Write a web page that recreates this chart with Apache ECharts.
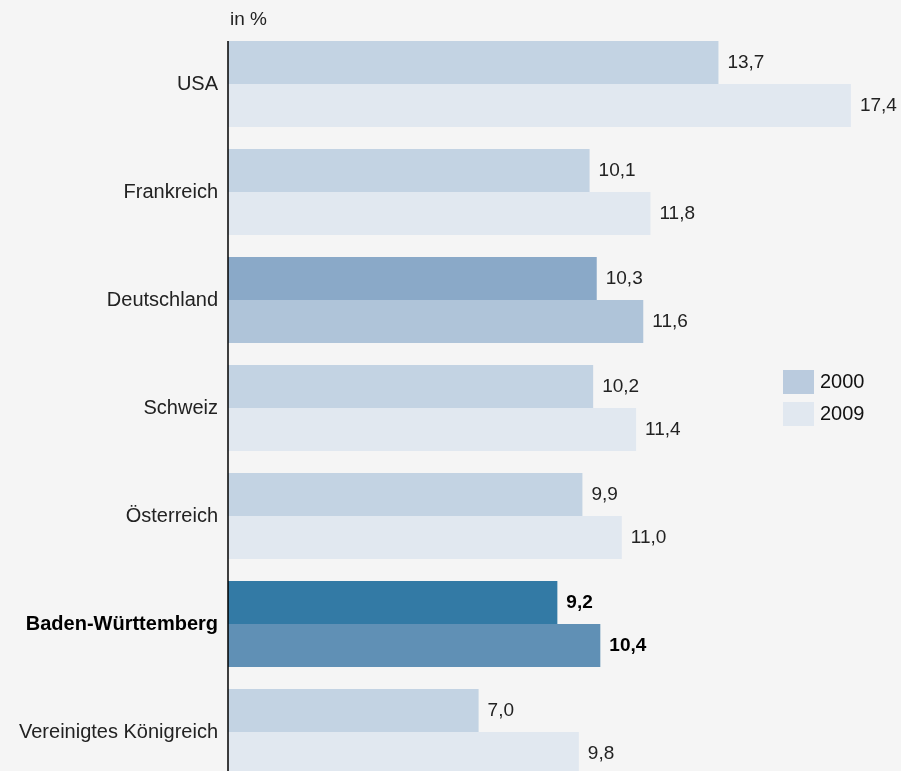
<!DOCTYPE html>
<html>
<head>
<meta charset="utf-8">
<script src="https://cdn.jsdelivr.net/npm/echarts@6/dist/echarts.min.js"></script>
<style>
html, body { margin: 0; padding: 0; background: #f5f5f5; }
#main { width: 901px; height: 771px; }
</style>
</head>
<body>
<div id="main"></div>
<script>
var categories = ['USA', 'Frankreich', 'Deutschland', 'Schweiz', 'Österreich', 'Baden-Württemberg', 'Vereinigtes Königreich'];
var values2000 = [13.7, 10.1, 10.3, 10.2, 9.9, 9.2, 7.0];
var values2009 = [17.4, 11.8, 11.6, 11.4, 11.0, 10.4, 9.8];

// Farben: Standard, Deutschland hervorgehoben, Baden-Württemberg stark hervorgehoben
var colors2000 = ['#c3d3e3', '#c3d3e3', '#8aa9c8', '#c3d3e3', '#c3d3e3', '#337aa5', '#c3d3e3'];
var colors2009 = ['#e1e8f0', '#e1e8f0', '#afc4d9', '#e1e8f0', '#e1e8f0', '#6090b5', '#e1e8f0'];
var boldIndex = 5;
var barW = 43;

var myChart = echarts.init(document.getElementById('main'));

function fmt(v) {
    return v.toFixed(1).replace('.', ',');
}

function buildData(values, colors) {
    return values.map(function (v, i) {
        return {
            value: v,
            itemStyle: { color: colors[i] },
            label: { fontWeight: i === boldIndex ? 'bold' : 'normal', color: i === boldIndex ? '#000' : '#222' }
        };
    });
}

var labelStyle = {
    show: true,
    position: 'right',
    distance: 9,
    fontSize: 19,
    fontFamily: 'Liberation Sans',
    formatter: function (p) { return fmt(p.value); }
};

option = {
    backgroundColor: '#f5f5f5',
    textStyle: { fontFamily: 'Liberation Sans' },
    legend: {
        orient: 'vertical',
        left: 783,
        top: 370,
        padding: 0,
        icon: 'rect',
        itemWidth: 31,
        itemHeight: 24,
        itemGap: 8,
        textStyle: { fontSize: 20, color: '#111', fontFamily: 'Liberation Sans', padding: [0, 0, 0, 1] },
        data: [
            { name: '2000', itemStyle: { color: '#bacbde' } },
            { name: '2009', itemStyle: { color: '#e1e8f0' } }
        ]
    },
    grid: {
        left: 228,
        top: 30,
        width: 644.4,
        height: 756,
        outerBoundsMode: 'none'
    },
    xAxis: {
        type: 'value',
        min: 0,
        max: 18,
        show: false
    },
    yAxis: {
        type: 'category',
        inverse: true,
        data: categories,
        axisLine: { show: false },
        axisTick: { show: false },
        axisLabel: {
            margin: 10,
            fontSize: 20,
            color: '#222',
            fontFamily: 'Liberation Sans',
            formatter: function (v) {
                return v === categories[boldIndex] ? '{b|' + v + '}' : v;
            },
            rich: {
                b: { fontWeight: 'bold', fontSize: 20, color: '#000', fontFamily: 'Liberation Sans' }
            }
        }
    },
    series: [{
        name: '2000',
        type: 'bar',
        barWidth: barW,
        barGap: '0%',
        barCategoryGap: '20%',
        label: labelStyle,
        data: buildData(values2000, colors2000)
    }, {
        name: '2009',
        type: 'bar',
        barWidth: barW,
        barGap: '0%',
        label: labelStyle,
        data: buildData(values2009, colors2009)
    }]
};

myChart.setOption(option);

// Achsenlinie beginnt an der Oberkante des ersten Balkens
var x0 = myChart.convertToPixel({ xAxisIndex: 0 }, 0);
var yTop = myChart.convertToPixel({ yAxisIndex: 0 }, categories[0]) - barW;
myChart.setOption({
    graphic: [{
        type: 'line',
        z: 10,
        shape: { x1: x0, y1: yTop, x2: x0, y2: 771 },
        style: { stroke: '#000', lineWidth: 1.5 }
    }, {
        type: 'text',
        left: x0 + 2,
        top: 10,
        style: { text: 'in %', fontSize: 19, fill: '#222', fontFamily: 'Liberation Sans' }
    }]
});
</script>
</body>
</html>
